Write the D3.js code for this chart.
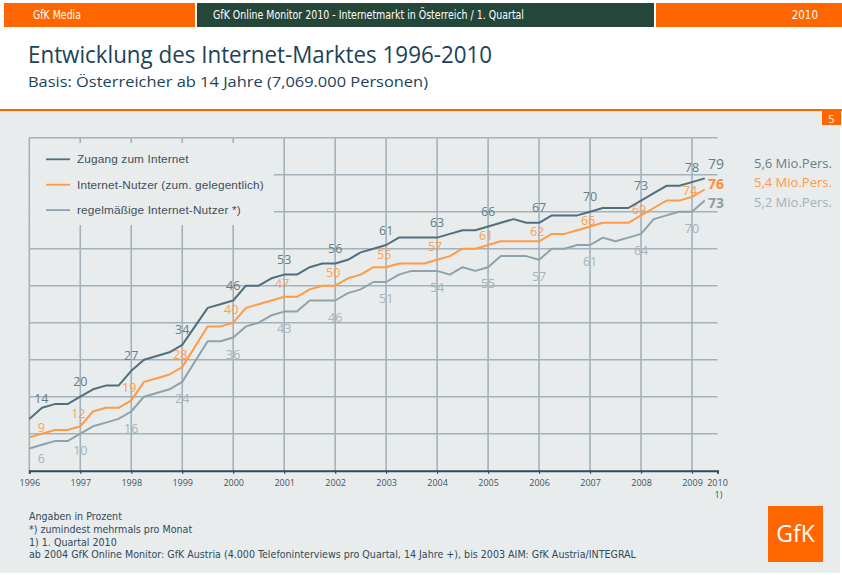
<!DOCTYPE html>
<html>
<head>
<meta charset="utf-8">
<script src="https://cdn.jsdelivr.net/npm/d3@7"></script>
<style>
  body { margin: 0; background: #fff; }
  svg { display: block; }
</style>
</head>
<body>
<script>
// quarterly values, 1996 Q1 .. 2010 Q1 (one point every quarter)
const zugang = [14, 17, 18, 18, 20, 22, 23, 23, 27, 30, 31, 32, 34, 39, 44, 45,
  46, 50, 50, 52, 53, 53, 55, 56, 56, 57, 59, 60, 61, 63, 63, 63,
  63, 64, 65, 65, 66, 67, 68, 67, 67, 69, 69, 69, 70, 71, 71, 71,
  73, 75, 77, 77, 78, 79];
const nutzer = [9, 10, 11, 11, 12, 16, 17, 17, 19, 24, 25, 26, 28, 33.5, 39, 39,
  40, 44, 45, 46, 47, 47, 49, 50, 50, 52, 53, 55, 55, 56, 56, 56,
  57, 58, 60, 60, 61, 62, 62, 62, 62, 64, 64, 65, 66, 67, 67, 67,
  69, 71, 73, 73, 74, 76];
const regelmaessig = [6, 7, 8, 8, 10, 12, 13, 14, 16, 20, 21, 22, 24, 29.5, 35, 35,
  36, 39, 40, 42, 43, 43, 46, 46, 46, 48, 49, 51, 51, 53, 54, 54,
  54, 53, 55, 54, 55, 58, 58, 58, 57, 60, 60, 61, 61, 63, 62, 63,
  64, 68, 69, 70, 70, 73];

const yearTicks = [1996, 1997, 1998, 1999, 2000, 2001, 2002, 2003, 2004, 2005, 2006, 2007, 2008, 2009];
const lastTickLabel = ["2010", "1)"];
const gridValues = [10, 20, 30, 40, 50, 60, 70, 80, 90];
const seriesNames = ["Zugang zum Internet", "Internet-Nutzer (zum. gelegentlich)", "regelmäßige Internet-Nutzer *)"];
const personLabels = ["5,6 Mio.Pers.", "5,4 Mio.Pers.", "5,2 Mio.Pers."];
const footnotes = [
  "Angaben in Prozent",
  "*) zumindest mehrmals pro Monat",
  "1) 1. Quartal 2010",
  "ab 2004 GfK Online Monitor: GfK Austria (4.000 Telefoninterviews pro Quartal, 14 Jahre +), bis 2003 AIM: GfK Austria/INTEGRAL"
];

const W = 842, H = 575;
const ORANGE = "#ff6600";
const PANEL = "#e9ecec";

const svg = d3.select("body").append("svg")
  .attr("width", W)
  .attr("height", H)
  .style("font-family", "'Open Sans', sans-serif");

// ---- header bar
const narrow = "'Liberation Sans Narrow', 'DejaVu Sans Condensed', sans-serif";
svg.append("rect").attr("x", 4).attr("y", 3).attr("width", 191).attr("height", 24).attr("fill", ORANGE);
svg.append("rect").attr("x", 197).attr("y", 3).attr("width", 457).attr("height", 24).attr("fill", "#24473a");
svg.append("rect").attr("x", 656).attr("y", 3).attr("width", 186).attr("height", 24).attr("fill", ORANGE);
svg.append("text").attr("x", 33).attr("y", 19).text("GfK Media")
  .attr("fill", "#fff").style("font-family", narrow).style("font-size", "11.5px")
  .attr("textLength", 48).attr("lengthAdjust", "spacingAndGlyphs");
svg.append("text").attr("x", 213).attr("y", 19).text("GfK Online Monitor 2010 - Internetmarkt in Österreich / 1. Quartal")
  .attr("fill", "#fff").style("font-family", narrow).style("font-size", "11.5px")
  .attr("textLength", 311).attr("lengthAdjust", "spacingAndGlyphs");
svg.append("text").attr("x", 818).attr("y", 19).text("2010")
  .attr("fill", "#fff").attr("text-anchor", "end").style("font-family", narrow).style("font-size", "11.5px");

// ---- title
svg.append("text").attr("x", 28).attr("y", 63).text("Entwicklung des Internet-Marktes 1996-2010")
  .attr("fill", "#1e4258").style("font-size", "24px")
  .attr("textLength", 464).attr("lengthAdjust", "spacingAndGlyphs");
svg.append("text").attr("x", 28).attr("y", 87).text("Basis: Österreicher ab 14 Jahre (7,069.000 Personen)")
  .attr("fill", "#1e4258").style("font-size", "15px")
  .attr("textLength", 400).attr("lengthAdjust", "spacingAndGlyphs");

// ---- panel
svg.append("rect").attr("x", 0).attr("y", 109).attr("width", W).attr("height", 2).attr("fill", ORANGE);
svg.append("rect").attr("x", 0).attr("y", 111).attr("width", 840).attr("height", 462).attr("fill", PANEL);
svg.append("rect").attr("x", 822).attr("y", 111).attr("width", 19).attr("height", 14).attr("fill", ORANGE);
svg.append("text").attr("x", 831.5).attr("y", 122.5).text("5").attr("fill", "#fff")
  .attr("text-anchor", "middle").style("font-size", "11px");

// ---- scales
const x = d3.scaleLinear().domain([1996, 2009.5]).range([29.3, 717.5]);
const y = d3.scaleLinear().domain([0, 90]).range([470.7, 137.7]);
const xq = i => x(1996 + i / 4);

const plot = svg.append("g");
const GRID = "#a3b2ba";

// horizontal grid
plot.append("g").selectAll("line").data(gridValues).join("line")
  .attr("x1", x(1996)).attr("x2", x(2009.5))
  .attr("y1", d => y(d)).attr("y2", d => y(d))
  .attr("stroke", GRID).attr("stroke-width", 1.6);

// vertical grid
plot.append("g").selectAll("line").data(yearTicks).join("line")
  .attr("x1", d => x(d)).attr("x2", d => x(d))
  .attr("y1", y(90)).attr("y2", y(0))
  .attr("stroke", GRID).attr("stroke-width", 1.6);

// legend box masks the grid
plot.append("rect").attr("x", x(1996) + 1).attr("y", 143)
  .attr("width", 274 - x(1996) - 1).attr("height", 82).attr("fill", PANEL);

// x axis
const xAxis = d3.axisBottom(x).tickValues(yearTicks).tickSize(3).tickFormat(d3.format("d"));
const gx = plot.append("g").attr("transform", `translate(0,${y(0)})`).call(xAxis);
gx.select(".domain").attr("stroke", "#2c4d60").attr("stroke-width", 2);
gx.selectAll(".tick line").attr("stroke", "#2c4d60").attr("stroke-width", 1.2);
gx.selectAll(".tick text").attr("fill", "#3b5566").attr("dy", 0).attr("y", 15)
  .style("font-size", "9px").style("font-family", "'Open Sans', sans-serif");
plot.append("text").attr("x", x(2009.5)).attr("y", y(0) + 15)
  .attr("text-anchor", "middle").attr("fill", "#3b5566").style("font-size", "9px")
  .selectAll("tspan").data(lastTickLabel).join("tspan")
  .attr("x", (d, i) => x(2009.5) + i * 1).attr("dy", (d, i) => i ? 12 : 0).text(d => d);

// ---- series
const series = [
  {name: seriesNames[0], values: zugang, line: "#4f6f7d", label: "#637d89", dy: -10.5, dy0: -16, dx: 0, end: "#637d89", endWeight: 400, person: "#667f8b"},
  {name: seriesNames[1], values: nutzer, line: "#ff9a45", label: "#ffa050", dy: -8.5, dy0: -9, dx: -2, end: "#ff8c33", endWeight: 700, person: "#ff9a45"},
  {name: seriesNames[2], values: regelmaessig, line: "#8fa2ab", label: "#a6b3ba", dy: 21, dy0: 14, dx: 0, end: "#8d9ea6", endWeight: 700, person: "#a3b1b8"}
];

const line = d3.line().x((d, i) => xq(i)).y(d => y(d));

series.slice().reverse().forEach(s => {
  plot.append("path").datum(s.values)
    .attr("d", line).attr("fill", "none")
    .attr("stroke", s.line).attr("stroke-width", 2).attr("stroke-linejoin", "round");
});

// value labels at each year start
series.forEach((s, k) => {
  const pts = s.values.map((v, i) => ({v, i})).filter(d => d.i % 4 === 0);
  plot.append("g").selectAll("text").data(pts).join("text")
    .attr("x", d => xq(d.i) + (d.i === 0 ? 12 : s.dx))
    .attr("y", d => {
      let yy = y(d.v) + (d.i === 0 ? s.dy0 : s.dy);
      // orange labels stay below the access line
      if (k === 1) yy = Math.max(yy, y(zugang[d.i]) + 13);
      return yy;
    })
    .attr("text-anchor", "middle")
    .attr("fill", s.label)
    .style("font-size", "12.5px")
    .text(d => d.v);
});

// end labels (1. Quartal 2010)
series.forEach((s, k) => {
  const v = s.values[s.values.length - 1];
  plot.append("text")
    .attr("x", 716).attr("y", 169 + k * 19.5)
    .attr("text-anchor", "middle")
    .attr("fill", s.end).style("font-size", "14px").style("font-weight", s.endWeight)
    .text(v);
  plot.append("text")
    .attr("x", 754).attr("y", 167.5 + k * 19.8)
    .attr("fill", s.person).style("font-size", "13px")
    .text(personLabels[k]);
});

// legend
const legend = plot.append("g").selectAll("g").data(series).join("g")
  .attr("transform", (d, i) => `translate(46,${159.3 + i * 25.4})`);
legend.append("line").attr("x1", 0).attr("x2", 24)
  .attr("stroke", d => d.line).attr("stroke-width", 1.8);
legend.append("text").attr("x", 31).attr("y", 4)
  .attr("fill", "#3d4f5a").style("font-size", "11.8px")
  .style("letter-spacing", "0.15px")
  .style("font-family", "'Liberation Sans', sans-serif")
  .text(d => d.name);

// ---- footnotes
svg.append("g").selectAll("text").data(footnotes).join("text")
  .attr("x", 29).attr("y", (d, i) => 520 + i * 12.8)
  .attr("fill", "#2f4a5a").style("font-size", "10.6px")
  .style("font-family", narrow)
  .text(d => d);

// ---- logo
svg.append("rect").attr("x", 768).attr("y", 506).attr("width", 55).attr("height", 56).attr("fill", ORANGE);
svg.append("text").attr("x", 795.5).attr("y", 542).text("GfK")
  .attr("text-anchor", "middle").attr("fill", "#fff").style("font-size", "23px");
</script>
</body>
</html>
